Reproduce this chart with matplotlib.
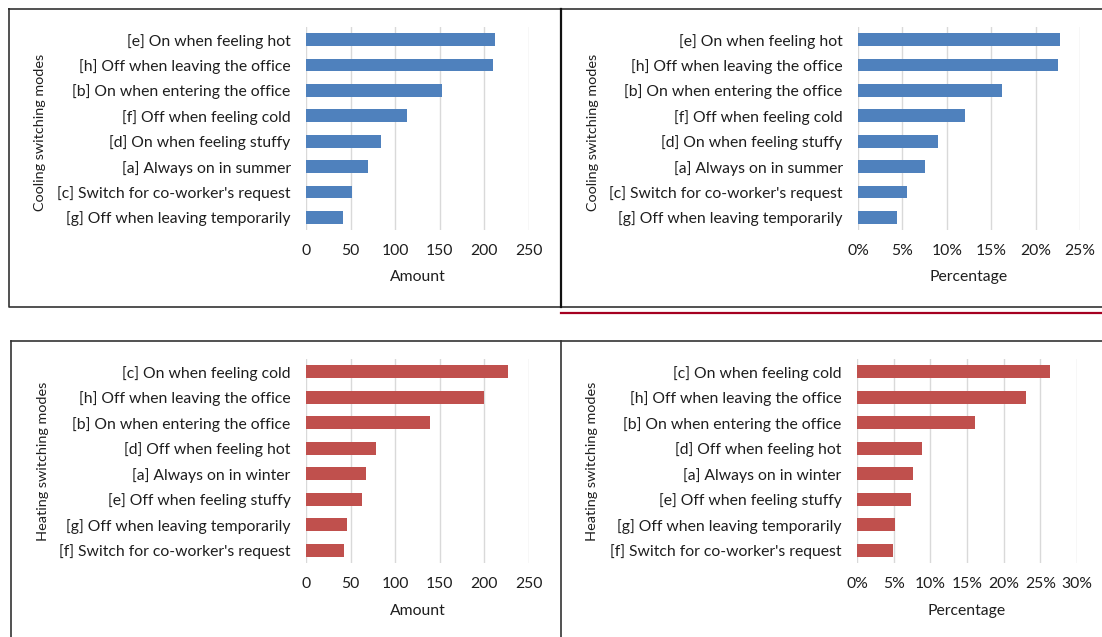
import matplotlib
matplotlib.use("Agg")
import matplotlib.pyplot as plt
from matplotlib.lines import Line2D
from matplotlib.ticker import FuncFormatter

# ---------------- data ----------------
cool_labels = ["[e] On when feeling hot", "[h] Off when leaving the office",
               "[b] On when entering the office", "[f] Off when feeling cold",
               "[d] On when feeling stuffy", "[a] Always on in summer",
               "[c] Switch for co-worker's request", "[g] Off when leaving temporarily"]
cool_amount = [212, 210, 152, 113, 84, 70, 52, 41]
cool_pct = [0.227, 0.225, 0.162, 0.121, 0.090, 0.075, 0.055, 0.044]

heat_labels = ["[c] On when feeling cold", "[h] Off when leaving the office",
               "[b] On when entering the office", "[d] Off when feeling hot",
               "[a] Always on in winter", "[e] Off when feeling stuffy",
               "[g] Off when leaving temporarily", "[f] Switch for co-worker's request"]
heat_amount = [226, 200, 139, 78, 67, 63, 46, 43]
heat_pct = [0.263, 0.231, 0.161, 0.089, 0.077, 0.073, 0.052, 0.049]

amount_ticks = [0, 50, 100, 150, 200, 250]
cool_pct_ticks = [0, 0.05, 0.10, 0.15, 0.20, 0.25]
heat_pct_ticks = [0, 0.05, 0.10, 0.15, 0.20, 0.25, 0.30]

BLUE = "#4F81BD"
RED = "#C0504D"
GRID = "#D9D9D9"
TXT = "#1E1E1E"

W, H = 1102, 637
plt.rcParams['font.family'] = ['Lato', 'DejaVu Sans']
FS = 11.3
FS_Y = 10.4

fig = plt.figure(figsize=(W / 100, H / 100), dpi=100)
fig.patch.set_facecolor("white")


def rect(x0, x1, yt, yb):
    return [x0 / W, 1 - yb / H, (x1 - x0) / W, (yb - yt) / H]


def panel(box, labels, values, color, ticks, pct, xlabel, ylabel, ylab_x, ylab_c, xlab_y):
    ax = fig.add_axes(rect(*box))
    y = list(range(len(labels)))
    ax.barh(y, values, height=0.5, color=color, zorder=3)
    ax.set_yticks(y)
    ax.set_yticklabels(labels, fontsize=FS, color=TXT)
    ax.set_ylim(len(labels) - 0.5, -0.5)
    ax.set_xlim(ticks[0], ticks[-1])
    ax.set_xticks(ticks)
    if pct:
        ax.xaxis.set_major_formatter(FuncFormatter(lambda v, p: f"{v*100:.0f}%"))
    ax.tick_params(axis='both', length=0, labelsize=FS, colors=TXT)
    ax.tick_params(axis='x', pad=10)
    ax.tick_params(axis='y', pad=11)
    ax.grid(axis='x', color=GRID, linewidth=1, zorder=0)
    for s in ax.spines.values():
        s.set_visible(False)
    ax.set_axisbelow(True)
    x0, x1, yt, yb = box
    fig.text(((x0 + x1) / 2) / W, 1 - xlab_y / H, xlabel, ha='center', va='center',
             fontsize=FS, color=TXT)
    fig.text(ylab_x / W, 1 - ylab_c / H, ylabel, ha='center', va='center', rotation=90,
             fontsize=FS_Y, color=TXT)
    return ax


panel((306, 529, 27, 230), cool_labels, cool_amount, BLUE, amount_ticks, False,
      "Amount", "Cooling switching modes", 40, 132, 277)
panel((858, 1080, 27, 230), cool_labels, cool_pct, BLUE, cool_pct_ticks, True,
      "Percentage", "Cooling switching modes", 593, 132, 277)
panel((306, 529, 359, 563), heat_labels, heat_amount, RED, amount_ticks, False,
      "Amount", "Heating switching modes", 43, 461, 611)
panel((857, 1077, 359, 563), heat_labels, heat_pct, RED, heat_pct_ticks, True,
      "Percentage", "Heating switching modes", 592, 461, 611)


def fline(xs, ys, color="#333333", lw=1.2):
    fig.add_artist(Line2D([x / W for x in xs], [1 - y / H for y in ys],
                          color=color, linewidth=lw, transform=fig.transFigure))


# panel borders
fline([9, 561, 561, 9, 9], [9, 9, 307, 307, 9])
fline([561, 1102], [9, 9])
fline([561, 1102], [307, 307])
fline([561, 561], [9, 307], color="#111111", lw=1.6)
fline([561, 1102], [313, 313], color="#A50021", lw=1.6)
fline([11, 11], [341, 637])
fline([11, 1102], [341, 341])
fline([561, 561], [341, 637])

fig.savefig("out.png", dpi=100)
